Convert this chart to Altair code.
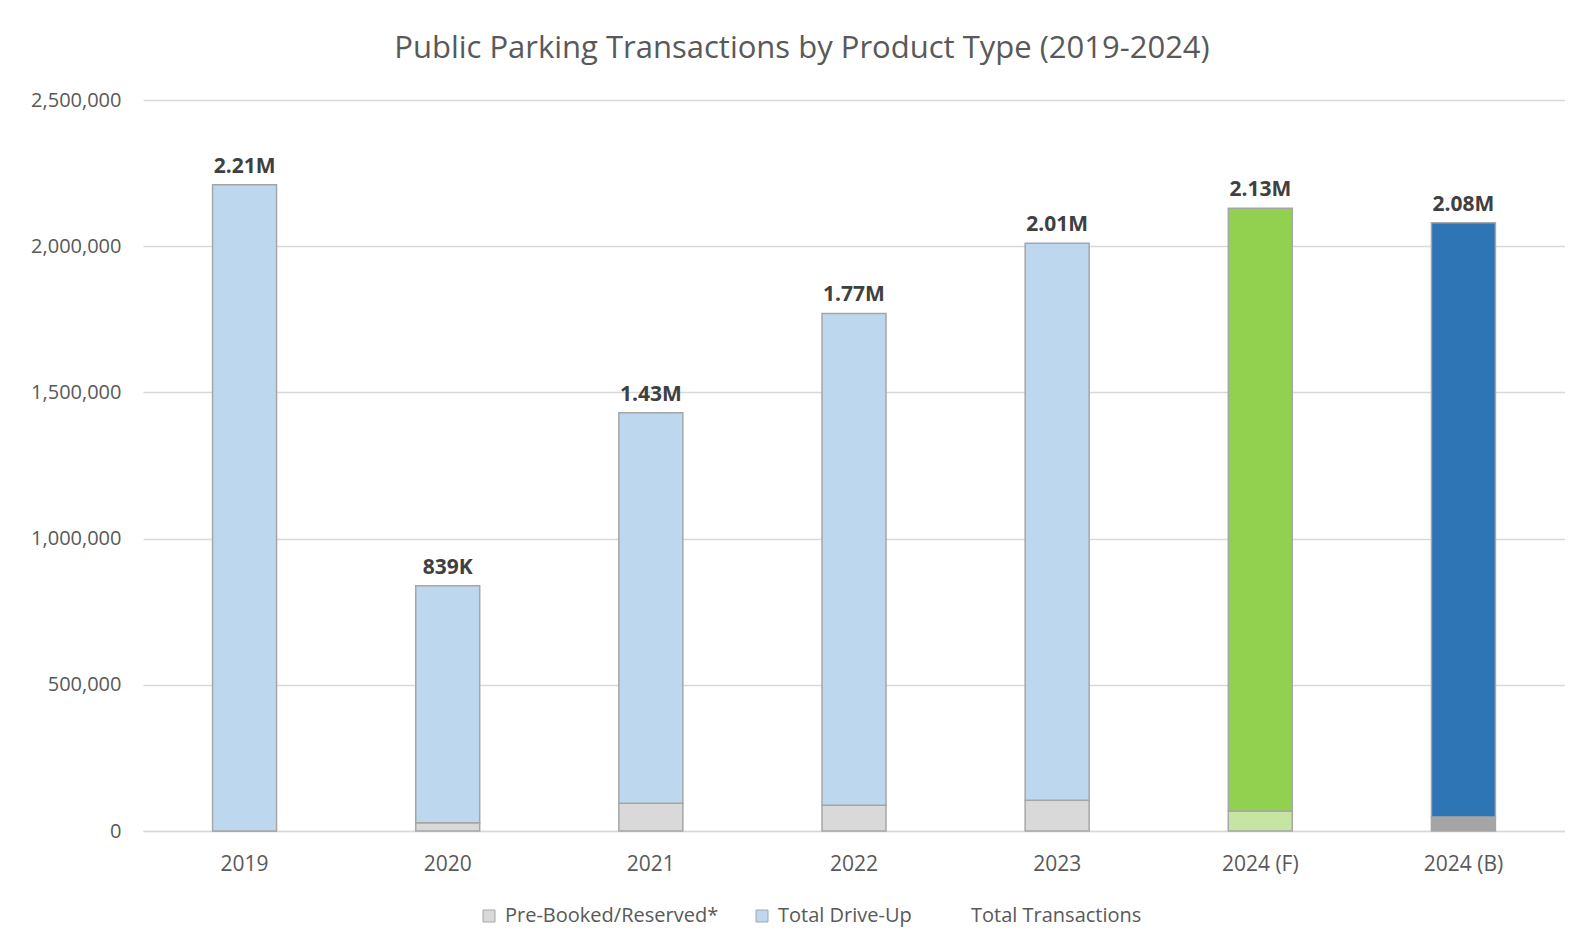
import altair as alt
import pandas as pd

years = ["2019", "2020", "2021", "2022", "2023", "2024 (F)", "2024 (B)"]
totals = [2210000, 839000, 1430000, 1770000, 2010000, 2130000, 2080000]
prebooked = [0, 28000, 95000, 88000, 105000, 68000, 48000]
total_labels = ["2.21M", "839K", "1.43M", "1.77M", "2.01M", "2.13M", "2.08M"]
y_ticks = [0, 500000, 1000000, 1500000, 2000000, 2500000]
pre_keys = ["Pre-Booked/Reserved*"] * 5 + ["F pre", "B pre"]
drive_keys = ["Total Drive-Up"] * 5 + ["F drive", "B drive"]

color_domain = ["Pre-Booked/Reserved*", "Total Drive-Up", "Total Transactions",
                "F pre", "F drive", "B pre", "B drive"]
color_range = ["#d9d9d9", "#bdd7ee", "rgba(0,0,0,0)",
               "#c6e5a3", "#92d050", "#a5a5a5", "#2e75b6"]
stroke_range = ["#a6a6a6", "#a6a6a6", "rgba(0,0,0,0)",
                "#a6a6a6", "#a6a6a6", "#a6a6a6", "#a6a6a6"]

rows = []
for i, y in enumerate(years):
    rows.append({"year": y, "seg": pre_keys[i], "value": prebooked[i], "ord": 0})
    rows.append({"year": y, "seg": drive_keys[i], "value": totals[i] - prebooked[i], "ord": 1})
df = pd.DataFrame(rows)
lab = pd.DataFrame({"year": years, "total": totals, "label": total_labels})

FONT = "Open Sans"

x_scale = alt.Scale(domain=years, paddingInner=0.685, paddingOuter=0.3425)
x_axis = alt.Axis(labelAngle=0, labelFontSize=21, labelColor="#595959",
                  labelFont=FONT, labelPadding=22, ticks=False,
                  domainColor="#d9d9d9", domainWidth=1.5)
y_scale = alt.Scale(domain=[0, 2500000], nice=False)
y_axis = alt.Axis(values=y_ticks, format=",.0f", labelFontSize=20,
                  labelColor="#595959", labelFont=FONT, labelPadding=22,
                  ticks=False, domain=False, gridColor="#d9d9d9", gridWidth=1.3)

legend = alt.Legend(
    values=["Pre-Booked/Reserved*", "Total Drive-Up", "Total Transactions"],
    orient="none", direction="horizontal", legendX=336, legendY=806,
    symbolType="square", symbolSize=144, symbolStrokeWidth=1,
    labelFontSize=20, labelColor="#595959", labelFont=FONT, labelLimit=400,
    columnPadding=33, labelOffset=6)

bars = alt.Chart(df).mark_bar(strokeWidth=1.5).encode(
    x=alt.X("year:N", title=None, scale=x_scale, axis=x_axis),
    y=alt.Y("value:Q", stack="zero", title=None, scale=y_scale, axis=y_axis),
    color=alt.Color("seg:N", title=None,
                    scale=alt.Scale(domain=color_domain, range=color_range),
                    legend=legend),
    stroke=alt.Stroke("seg:N", title=None,
                      scale=alt.Scale(domain=color_domain, range=stroke_range),
                      legend=legend),
    order=alt.Order("ord:Q"),
)

texts = alt.Chart(lab).mark_text(baseline="bottom", dy=-8, fontSize=21, fontWeight="bold",
                                 color="#404040", font=FONT).encode(
    x=alt.X("year:N", title=None, scale=x_scale, axis=x_axis),
    y=alt.Y("total:Q", title=None, scale=y_scale, axis=y_axis),
    text="label:N",
)

chart = alt.layer(bars, texts).properties(
    width=1422, height=731,
    autosize=alt.AutoSizeParams(type="none"),
    padding={"left": 135, "top": 92, "right": 0, "bottom": 110},
    title=alt.Title("Public Parking Transactions by Product Type (2019-2024)",
                    fontSize=31, fontWeight="normal", color="#595959", font=FONT,
                    anchor="middle", dx=-52, offset=25),
).configure_view(stroke=None)

chart.save("out.html", embed_options={"renderer": "svg", "actions": False})
